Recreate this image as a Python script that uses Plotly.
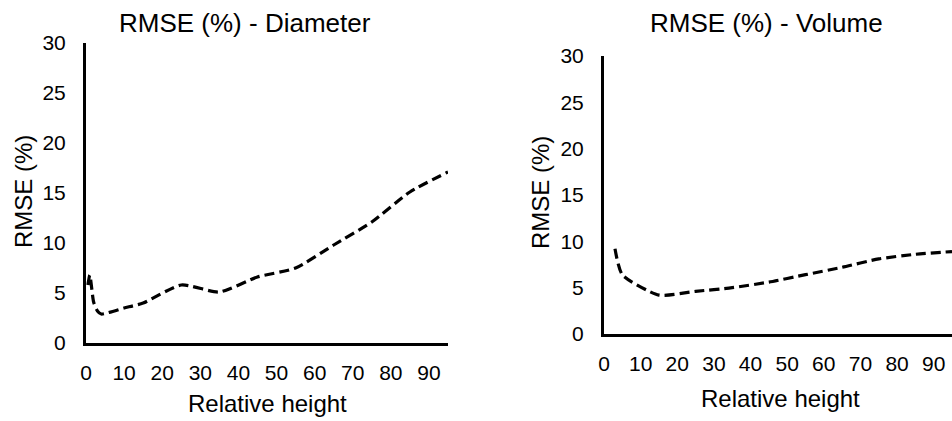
import plotly.graph_objects as go

# Relative height (%) and RMSE (%) for the diameter model
diam_height = [0.5, 1, 2, 3, 4, 10, 15, 25, 35, 45, 55, 65, 75, 85, 95]
diam_rmse = [5.8, 6.8, 4.1, 3.2, 2.9, 3.5, 4.0, 5.8, 5.1, 6.6, 7.5, 9.8, 12.1, 15.1, 17.1]

# Relative height (%) and RMSE (%) for the volume model
vol_height = [3, 5, 15, 25, 35, 45, 55, 65, 75, 85, 95]
vol_rmse = [9.2, 6.4, 4.2, 4.6, 5.0, 5.6, 6.4, 7.2, 8.1, 8.6, 8.9]

x_ticks = [0, 10, 20, 30, 40, 50, 60, 70, 80, 90]
y_ticks = [0, 5, 10, 15, 20, 25, 30]

FONT = "Liberation Sans, Arial, sans-serif"
line_style = dict(color="black", width=3.2, dash="10px,5px", shape="spline", smoothing=0.6)

fig = go.Figure()
fig.add_trace(go.Scatter(x=diam_height, y=diam_rmse, mode="lines", line=line_style,
                         xaxis="x", yaxis="y", showlegend=False))
fig.add_trace(go.Scatter(x=vol_height, y=vol_rmse, mode="lines", line=line_style,
                         xaxis="x2", yaxis="y2", showlegend=False))

W, H = 952, 421

def xaxis(domain, anchor, standoff):
    return dict(domain=domain, anchor=anchor, range=[0, 95], tickvals=x_ticks,
                showgrid=False, zeroline=False, showline=True, linecolor="black",
                linewidth=3, ticks="", ticklabelstandoff=standoff, automargin=False,
                tickfont=dict(size=21, color="black", family=FONT))

def yaxis(domain, anchor, standoff):
    return dict(domain=domain, anchor=anchor, range=[0, 30], tickvals=y_ticks,
                showgrid=False, zeroline=False, showline=True, linecolor="black",
                linewidth=3, ticks="", ticklabelstandoff=standoff, automargin=False,
                tickfont=dict(size=21, color="black", family=FONT))

fig.update_layout(
    template="none",
    width=W, height=H,
    margin=dict(l=0, r=0, t=0, b=0, pad=0, autoexpand=False),
    paper_bgcolor="white", plot_bgcolor="white",
    xaxis=xaxis([86 / W, 448 / W], "y", 9),
    yaxis=yaxis([(H - 343) / H, (H - 43) / H], "x", 13),
    xaxis2=xaxis([604 / W, 1.0], "y2", 9),
    yaxis2=yaxis([(H - 334) / H, (H - 56) / H], "x2", 13),
)

def label(text, x, y, size, angle=0):
    fig.add_annotation(text=text, x=x / W, y=1 - y / H, xref="paper", yref="paper",
                       showarrow=False, textangle=angle, xanchor="center", yanchor="middle",
                       font=dict(size=size, color="black", family=FONT))

label("RMSE (%) - Diameter", 245, 23, 26)
label("RMSE (%) - Volume", 766, 23, 26)
label("Relative height", 267, 403, 24)
label("Relative height", 780, 398, 24)
label("RMSE (%)", 24, 192, 24, -90)
label("RMSE (%)", 540, 193, 24, -90)

fig.write_html("out.html")

# keep the page free of default body margins
with open("out.html", encoding="utf-8") as fh:
    page = fh.read()
page = page.replace("<head>", "<head><style>html,body{margin:0;padding:0;overflow:hidden;}</style>", 1)
with open("out.html", "w", encoding="utf-8") as fh:
    fh.write(page)
